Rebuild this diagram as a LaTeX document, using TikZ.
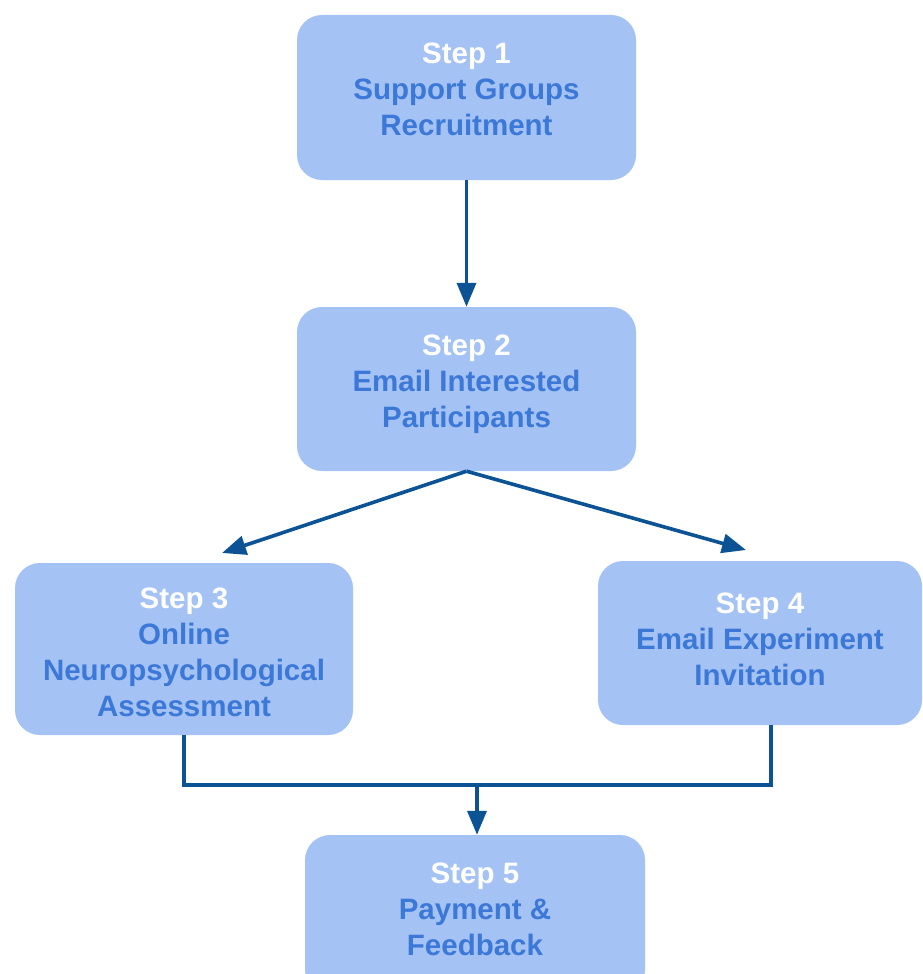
\documentclass[tikz,border=0pt]{standalone}
\usepackage{fontspec}
\setmainfont{Liberation Sans}
\usetikzlibrary{arrows.meta}
\definecolor{boxfill}{HTML}{A4C2F4}
\definecolor{txtblue}{HTML}{3C78D8}
\definecolor{arrowblue}{HTML}{0B5394}
\begin{document}
\begin{tikzpicture}[x=1pt,y=-1pt,
  stepbox/.style={fill=boxfill, rounded corners=25pt, inner sep=0pt},
  steptext/.style={inner sep=0pt, align=center,
    font=\bfseries\fontsize{29.5}{36}\selectfont, text=txtblue},
  conn/.style={draw=arrowblue, line width=3.6pt},
  arr/.style={conn, -{Triangle[length=24pt,width=19pt]}}]
\clip (0,0) rectangle (922,974);
\fill[white] (0,0) rectangle (922,974);
\node[stepbox, minimum width=339pt, minimum height=165pt] (b1) at (466.5,97.5) {};
\node[steptext] (b1t) at ([yshift=8pt]b1.center)
  {\textcolor{white}{Step 1}\\Support Groups\\Recruitment};
\node[stepbox, minimum width=339pt, minimum height=164pt] (b2) at (466.5,389) {};
\node[steptext] (b2t) at ([yshift=5pt]b2.center)
  {\textcolor{white}{Step 2}\\Email Interested\\Participants};
\node[stepbox, minimum width=338pt, minimum height=172pt] (b3) at (184,649) {};
\node[steptext] (b3t) at ([yshift=-3pt]b3.center)
  {\textcolor{white}{Step 3}\\Online\\Neuropsychological\\Assessment};
\node[stepbox, minimum width=324pt, minimum height=164pt] (b4) at (760,643) {};
\node[steptext] (b4t) at ([yshift=4pt]b4.center)
  {\textcolor{white}{Step 4}\\Email Experiment\\Invitation};
\node[stepbox, minimum width=340pt, minimum height=160pt] (b5) at (475,915) {};
\node[steptext] (b5t) at ([yshift=6pt]b5.center)
  {\textcolor{white}{Step 5}\\Payment \&\\Feedback};
\coordinate (t3) at (222,553);
\coordinate (t4) at (746,550);
\coordinate (jn) at (477,785);
\coordinate (j4) at (771,725);
\draw[arr] (b1.south) -- (b2.north);
\draw[arr] (b2.south) -- (t3);
\draw[arr] (b2.south) -- (t4);
\draw[conn] (b3.south) |- (jn) -| (j4);
\draw[arr] (jn) -- (jn |- b5.north);
\end{tikzpicture}
\end{document}
